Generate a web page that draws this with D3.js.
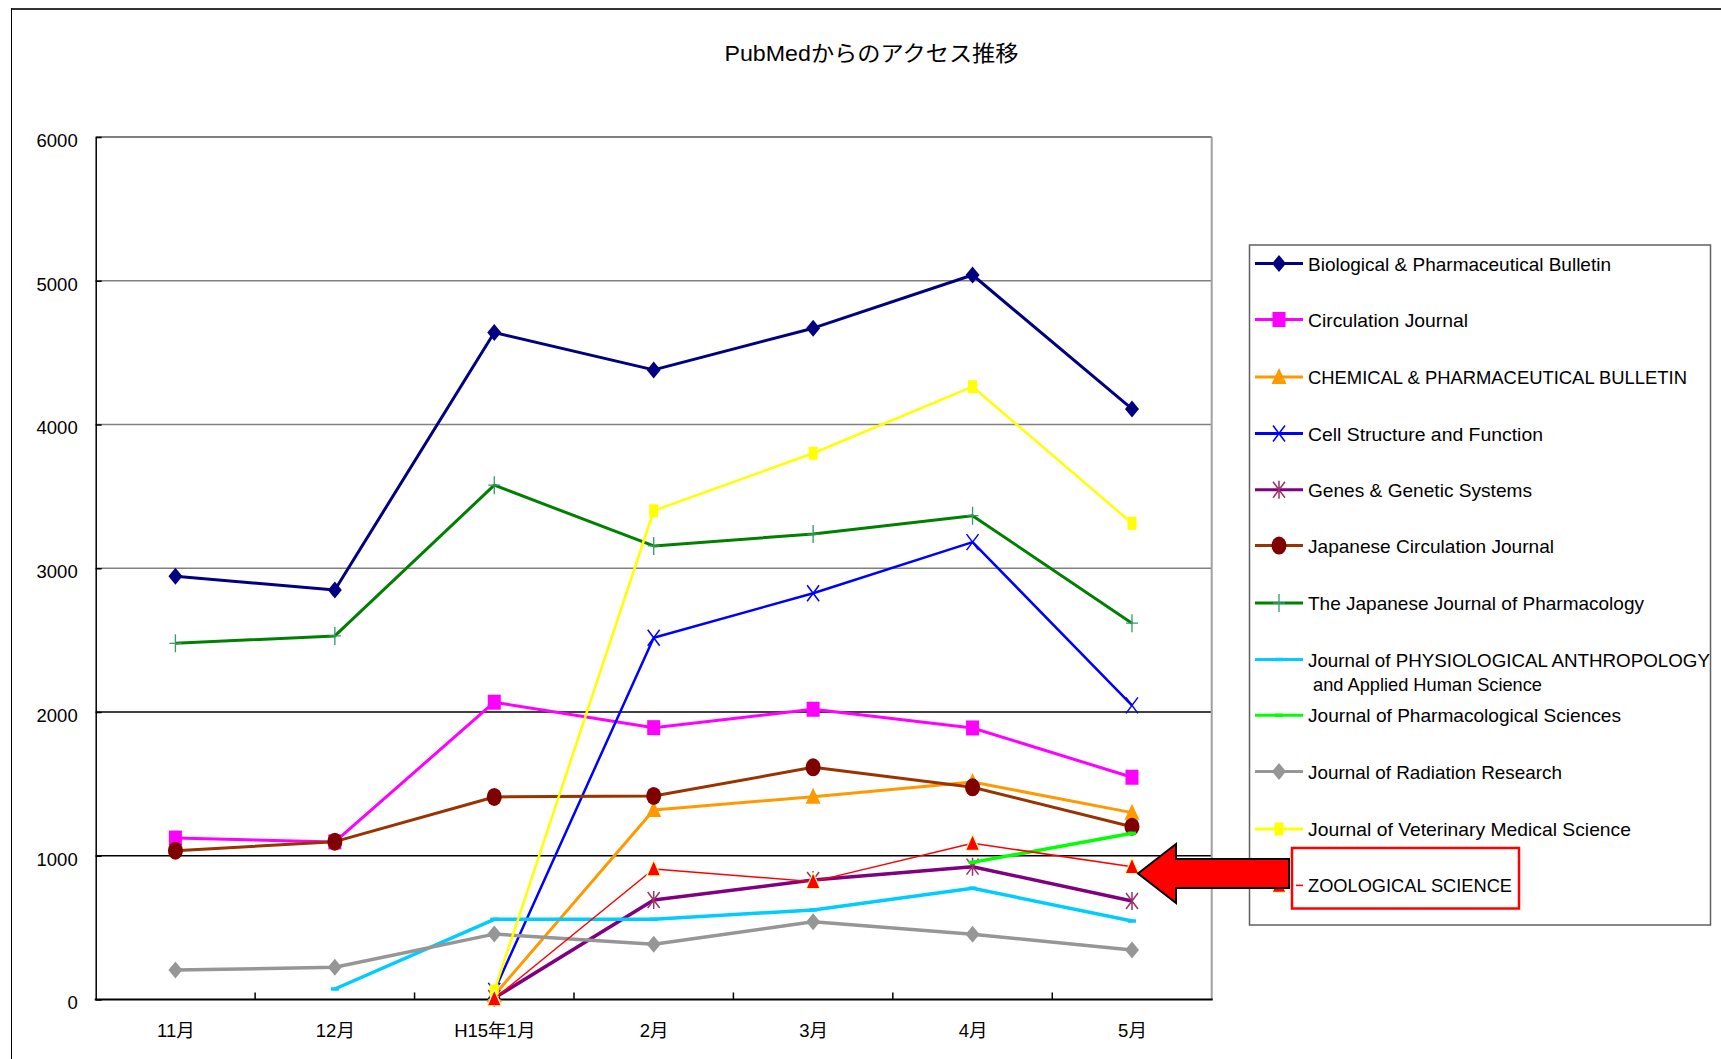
<!DOCTYPE html>
<html><head><meta charset="utf-8">
<script src="https://cdn.jsdelivr.net/npm/d3@7"></script>
<style>
html,body{margin:0;padding:0;background:#fff;}
svg{display:block;}
text{font-family:"Liberation Sans",Arial,"Noto Sans CJK JP",sans-serif;fill:#000;}
</style>
</head><body>
<script>
const titleText = "PubMedからのアクセス推移";
const categories = ["11月","12月","H15年1月","2月","3月","4月","5月"];
const yTicks = [0,1000,2000,3000,4000,5000,6000];

const bioPharmBull   = [2945, 2849, 4640, 4380, 4670, 5040, 4108];
const circJournal    = [1123, 1096, 2068, 1891, 2019, 1889, 1546];
const chemPharmBull  = [null, null, 30, 1318, 1411, 1513, 1300];
const cellStructure  = [null, null, 60, 2517, 2826, 3182, 2046];
const genesGenetic   = [null, null, 10, 692, 831, 924, 685];
const japCircJournal = [1035, 1098, 1409, 1416, 1615, 1476, 1202];
const japJPharmacol  = [2478, 2529, 3578, 3155, 3238, 3366, 2618];
const physioAnthro   = [null, 73, 558, 558, 623, 774, 546];
const pharmSci       = [null, null, null, null, null, 954, 1156];
const radResearch    = [205, 224, 455, 384, 541, 454, 344];
const vetMedSci      = [null, null, 60, 3400, 3800, 4263, 3313];
const zoologicalSci  = [null, null, 5, 908, 820, 1087, 924];

const seriesNames = [
  "Biological & Pharmaceutical Bulletin",
  "Circulation Journal",
  "CHEMICAL & PHARMACEUTICAL BULLETIN",
  "Cell Structure and Function",
  "Genes & Genetic Systems",
  "Japanese Circulation Journal",
  "The Japanese Journal of Pharmacology",
  ["Journal of PHYSIOLOGICAL ANTHROPOLOGY", " and Applied Human Science"],
  "Journal of Pharmacological Sciences",
  "Journal of Radiation Research",
  "Journal of Veterinary Medical Science",
  "ZOOLOGICAL SCIENCE"
];
const seriesValues = [bioPharmBull, circJournal, chemPharmBull, cellStructure, genesGenetic,
  japCircJournal, japJPharmacol, physioAnthro, pharmSci, radResearch, vetMedSci, zoologicalSci];

// styles
const styles = [
  {line:"#000080", w:3,   m:"diamond",  mf:"#000080"},
  {line:"#FF00FF", w:3,   m:"square",   mf:"#FF00FF"},
  {line:"#FF9900", w:3,   m:"triangle", mf:"#FF9900"},
  {line:"#0000FF", w:2.5, m:"x",        mf:"#0000FF"},
  {line:"#800080", w:3.5, m:"asterisk", mf:"#993366"},
  {line:"#993300", w:3,   m:"circle",   mf:"#800000"},
  {line:"#008000", w:3,   m:"plus",     mf:"#339966"},
  {line:"#00CCFF", w:3.5, m:"dash",     mf:"#00CCFF"},
  {line:"#00FF00", w:3.5, m:"dash",     mf:"#00FF00"},
  {line:"#969696", w:3.5, m:"diamond",  mf:"#969696"},
  {line:"#FFFF00", w:2.5, m:"vsquare",  mf:"#FFFF00"},
  {line:"#FF0000", w:1.5, m:"ztriangle",mf:"#FF0000"}
];
const legendWidths = [303, 160, 379, 235, 224, 246, 336, [402, 234], 313, 254, 323, 204];

const W = 1721, H = 1059;
const plot = {l:95.7, r:1211.7, t:137, b:999.5};

const svg = d3.select("body").append("svg").attr("width", W).attr("height", H);
svg.append("rect").attr("width", W).attr("height", H).attr("fill", "#fff");

// outer frame
svg.append("line").attr("x1", 11).attr("x2", W).attr("y1", 9).attr("y2", 9).attr("stroke", "#333").attr("stroke-width", 2);
svg.append("line").attr("x1", 11.5).attr("x2", 11.5).attr("y1", 8).attr("y2", H).attr("stroke", "#000").attr("stroke-width", 1);

// title
svg.append("text").attr("x", 871.5).attr("y", 61).attr("text-anchor", "middle")
  .style("font-size", "21.5px").attr("textLength", 294).attr("lengthAdjust", "spacingAndGlyphs")
  .text(titleText);

const x = d3.scalePoint().domain(categories).range([plot.l, plot.r]).padding(0.5);
const xb = d3.scaleBand().domain(categories).range([plot.l, plot.r]);
const y = d3.scaleLinear().domain([0, 6000]).range([plot.b, plot.t]);

// gridlines
svg.append("g").selectAll("line").data(yTicks.filter(v => v > 0 && v < 6000)).join("line")
  .attr("x1", plot.l).attr("x2", plot.r).attr("y1", d => y(d)).attr("y2", d => y(d))
  .attr("stroke", d => d <= 2000 ? "#000" : "#808080").attr("stroke-width", 1.3);
// plot border top & right
svg.append("line").attr("x1", plot.l).attr("x2", plot.r).attr("y1", y(6000)).attr("y2", y(6000)).attr("stroke", "#808080").attr("stroke-width", 2);
svg.append("line").attr("x1", plot.r).attr("x2", plot.r).attr("y1", plot.t).attr("y2", plot.b).attr("stroke", "#a0a0a0").attr("stroke-width", 2);

// y axis
const yAxis = d3.axisLeft(y).tickValues(yTicks).tickSizeInner(-6).tickSizeOuter(0).tickPadding(18).tickFormat(d3.format("d"));
const gy = svg.append("g").attr("transform", `translate(${plot.l},0)`).call(yAxis);
gy.select(".domain").attr("stroke", "#000").attr("stroke-width", 1.5);
gy.selectAll(".tick line").attr("stroke", "#000").attr("stroke-width", 1.5);
gy.selectAll(".tick text").style("font-size", "18.5px").attr("dy", "0.5em").style("font-family", null);

// x axis
const xAxis = d3.axisBottom(x).tickSize(0).tickPadding(0);
const gx = svg.append("g").attr("transform", `translate(0,${plot.b})`).call(xAxis);
gx.select(".domain").remove();
gx.selectAll(".tick text").attr("y", 37).attr("dy", null).style("font-size", "18.5px").style("font-family", null);
// x ticks at category boundaries
svg.append("g").selectAll("line").data(categories.slice(1)).join("line")
  .attr("x1", d => xb(d)).attr("x2", d => xb(d)).attr("y1", plot.b).attr("y2", plot.b - 7)
  .attr("stroke", "#000").attr("stroke-width", 1.5);
svg.append("line").attr("x1", plot.l - 1).attr("x2", plot.r + 1).attr("y1", plot.b).attr("y2", plot.b)
  .attr("stroke", "#000").attr("stroke-width", 2);

// marker drawing
function drawMarker(g, type, color) {
  switch (type) {
    case "diamond":
      g.append("path").attr("d", "M0,-8.5L7,0L0,8.5L-7,0Z").attr("fill", color); break;
    case "square":
      g.append("rect").attr("x", -6.5).attr("y", -7.5).attr("width", 13).attr("height", 15).attr("fill", color); break;
    case "vsquare":
      g.append("rect").attr("x", -4.5).attr("y", -6.5).attr("width", 9).attr("height", 13).attr("fill", color); break;
    case "triangle":
      g.append("path").attr("d", "M0,-9L7.5,7L-7.5,7Z").attr("fill", color); break;
    case "ztriangle":
      g.append("path").attr("d", "M0,-9L7,7L-7,7Z").attr("fill", color).attr("stroke", "#FFFF99").attr("stroke-width", 1.2); break;
    case "x":
      g.append("path").attr("d", "M-6,-8L6,8M6,-8L-6,8").attr("stroke", color).attr("stroke-width", 1.5).attr("fill", "none"); break;
    case "asterisk":
      g.append("path").attr("d", "M-6,-8L6,8M6,-8L-6,8M0,-9L0,9").attr("stroke", color).attr("stroke-width", 1.5).attr("fill", "none"); break;
    case "circle":
      g.append("ellipse").attr("rx", 7.5).attr("ry", 9).attr("fill", color); break;
    case "plus":
      g.append("path").attr("d", "M-6,0L6,0M0,-9L0,9").attr("stroke", color).attr("stroke-width", 1.3).attr("fill", "none"); break;
    case "dash":
      g.append("path").attr("d", "M-4,0L4,0").attr("stroke", color).attr("stroke-width", 3.5).attr("fill", "none"); break;
  }
}

// series
const line = d3.line().defined(d => d.v != null).x(d => x(d.c)).y(d => y(d.v));
seriesValues.forEach((vals, i) => {
  const st = styles[i];
  const data = categories.map((c, j) => ({c, v: vals[j]}));
  const g = svg.append("g");
  g.append("path").datum(data).attr("d", line).attr("fill", "none")
    .attr("stroke", st.line).attr("stroke-width", st.w).attr("stroke-linejoin", "round");
  data.filter(d => d.v != null).forEach(d => {
    const mg = g.append("g").attr("transform", `translate(${x(d.c)},${y(d.v)})`);
    drawMarker(mg, st.m, st.mf);
  });
});

// legend
const leg = svg.append("g");
leg.append("rect").attr("x", 1249.5).attr("y", 245).attr("width", 461).attr("height", 680)
  .attr("fill", "#fff").attr("stroke", "#606060").attr("stroke-width", 1.5);
const legY = [263.5, 319.5, 377, 433.5, 489.8, 545.6, 603, 659.5, 715.3, 771.5, 829, 885.4];
seriesNames.forEach((name, i) => {
  const st = styles[i];
  const yy = legY[i];
  const lx1 = i === 11 ? 1296 : 1255;
  leg.append("line").attr("x1", lx1).attr("x2", 1303).attr("y1", yy).attr("y2", yy)
    .attr("stroke", st.line).attr("stroke-width", i === 11 ? 1.5 : 3);
  const mg = leg.append("g").attr("transform", `translate(1279,${yy})`);
  drawMarker(mg, st.m, st.mf);
  const lines = Array.isArray(name) ? name : [name];
  const widths = Array.isArray(legendWidths[i]) ? legendWidths[i] : [legendWidths[i]];
  lines.forEach((t, k) => {
    leg.append("text").attr("x", 1308).attr("y", yy + 7 + k * 24.5)
      .style("font-size", "19px").attr("textLength", widths[k]).attr("lengthAdjust", "spacingAndGlyphs")
      .style("white-space", "pre").attr("xml:space", "preserve")
      .text(t);
  });
});
// highlight box around ZOOLOGICAL SCIENCE
svg.append("rect").attr("x", 1292).attr("y", 848).attr("width", 227).attr("height", 60.5)
  .attr("fill", "none").attr("stroke", "#FF0000").attr("stroke-width", 2.5);
// arrow pointing to ZOOLOGICAL SCIENCE line end
const arrowPts = [[1138,873.5],[1176,844],[1176,859],[1289,859],[1289,888],[1176,888],[1176,903]];
svg.append("path").attr("d", d3.line()(arrowPts) + "Z")
  .attr("fill", "#FF0000").attr("stroke", "#000").attr("stroke-width", 2).attr("stroke-linejoin", "miter");
</script>
</body></html>
